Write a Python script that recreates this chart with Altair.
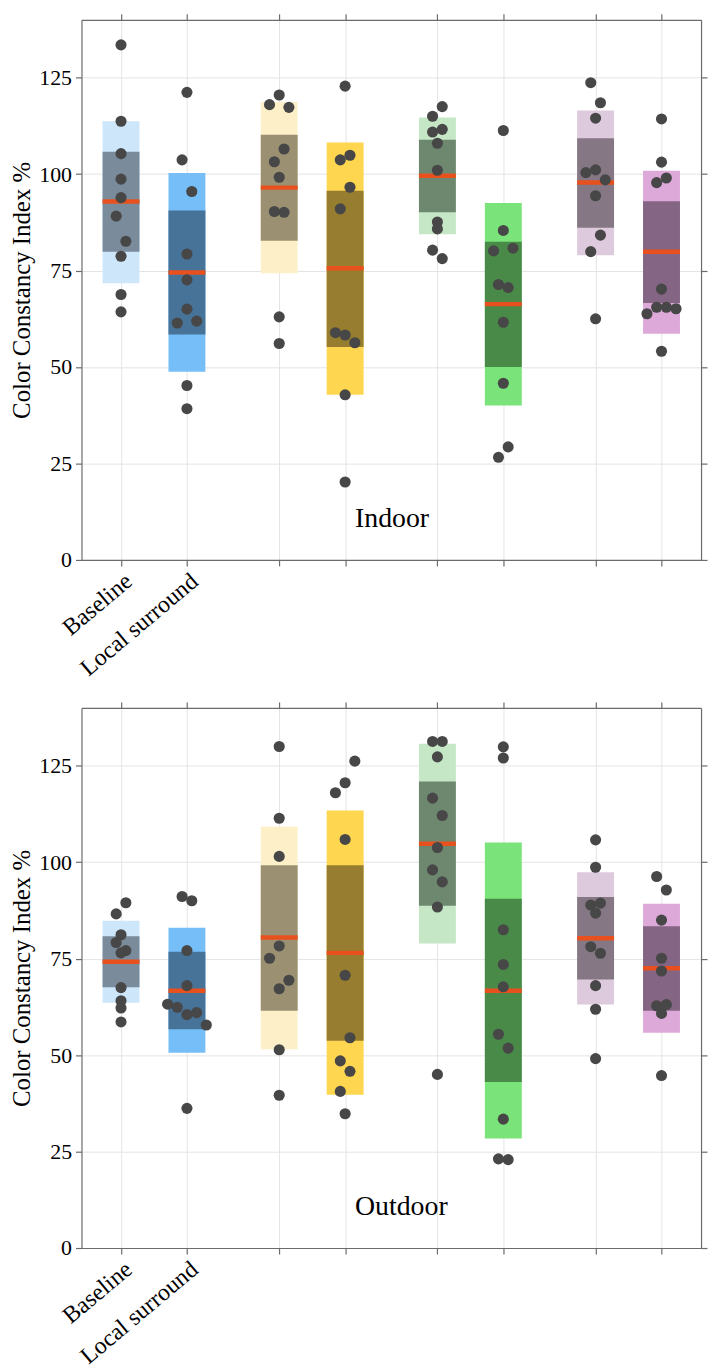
import altair as alt
import pandas as pd

# ---------------- data ----------------
GROUP_LABELS = ["Baseline", "Local surround", "", "", "", "", "", ""]
OUTER_COLORS = ["#cde6fa", "#75bef8", "#fdf0c8", "#fed650", "#c5e7c6", "#7ae37a", "#ddcadc", "#dca9d9"]
INNER_COLORS = ["#7a8b9b", "#477399", "#9b9072", "#967d2f", "#6e8870", "#4a8a48", "#857884", "#846583"]
MEAN_COLOR = "#e8501e"
POINT_COLOR = "#474747"

# Indoor panel
INDOOR_POINTS = [
    [133.5, 113.7, 105.3, 98.7, 93.9, 89.1, 82.6, 78.7, 68.8, 64.3],
    [121.2, 103.7, 95.5, 79.3, 72.6, 65.0, 61.4, 61.9, 45.2, 39.2],
    [118.0, 120.5, 117.3, 106.5, 103.2, 99.2, 90.3, 90.1, 63.0, 56.1],
    [122.8, 103.7, 104.9, 96.6, 91.0, 58.9, 58.3, 56.3, 42.8, 20.2],
    [117.5, 115.0, 110.9, 111.6, 108.0, 101.0, 87.6, 85.8, 80.3, 78.1],
    [111.3, 85.4, 80.1, 80.8, 71.4, 70.6, 61.6, 45.8, 29.3, 26.6],
    [123.7, 118.5, 114.5, 100.4, 101.1, 98.5, 94.4, 84.2, 79.9, 62.5],
    [114.3, 103.1, 99.0, 97.8, 70.2, 63.8, 65.5, 65.5, 65.1, 54.1],
]
# swarm slot of each point
INDOOR_SLOTS = [
    [0, 0, 0, 0, 0, -0.5, 0.5, 0, 0, 0],
    [0, -0.5, 0.5, 0, 0, 0, -1, 1, 0, 0],
    [-1, 0, 1, 0.5, -0.5, 0, -0.5, 0.5, 0, 0],
    [0, -0.5, 0.5, 0.5, -0.5, -1, 0, 1, 0, 0],
    [0.5, -0.5, -0.5, 0.5, 0, 0, 0, 0, -0.5, 0.5],
    [0, 0, -1, 1, -0.5, 0.5, 0, 0, 0.5, -0.5],
    [-0.5, 0.5, 0, -1, 0, 1, 0, 0.5, -0.5, 0],
    [0, 0, 0.5, -0.5, 0, -1.5, -0.5, 0.5, 1.5, 0],
]
INDOOR_SD_LO = [71.7, 48.75, 74.3, 42.8, 84.4, 40.0, 79.0, 58.6]
INDOOR_SD_HI = [113.7, 100.3, 118.7, 108.2, 114.7, 92.5, 116.5, 100.9]
INDOOR_CI_LO = [79.85, 58.4, 82.7, 55.2, 90.1, 50.0, 86.1, 66.6]
INDOOR_CI_HI = [105.8, 90.6, 110.2, 95.7, 108.9, 82.5, 109.3, 93.0]
INDOOR_MEAN = [92.9, 74.5, 96.5, 75.6, 99.6, 66.3, 97.8, 79.9]

# Outdoor panel
OUTDOOR_POINTS = [
    [89.5, 86.6, 81.2, 79.2, 77.1, 76.5, 67.5, 64.1, 62.2, 58.6],
    [91.1, 90.0, 77.1, 68.0, 63.2, 62.4, 60.5, 61.0, 57.8, 36.2],
    [130.0, 111.4, 101.5, 78.3, 75.1, 69.4, 67.2, 51.4, 39.6],
    [126.2, 120.6, 118.0, 105.9, 70.7, 54.5, 48.5, 45.8, 40.6, 34.8],
    [131.3, 131.3, 127.3, 116.6, 112.1, 103.8, 98.0, 94.9, 88.4, 45.0],
    [129.9, 127.0, 82.5, 73.5, 67.7, 55.4, 51.8, 33.4, 23.1, 22.9],
    [105.8, 98.7, 88.9, 89.4, 86.8, 78.1, 76.4, 68.0, 61.9, 49.1],
    [96.3, 92.8, 85.0, 75.1, 71.8, 62.8, 63.1, 60.8, 44.7],
]
OUTDOOR_SLOTS = [
    [0.5, -0.5, 0, -0.5, 0.5, 0, 0, 0, 0, 0],
    [-0.5, 0.5, 0, 0, -2, -1, 0, 1, 2, 0],
    [0, 0, 0, 0, -1, 1, 0, 0, 0],
    [1, 0, -1, 0, 0, 0.5, -0.5, 0.5, -0.5, 0],
    [-0.5, 0.5, 0, -0.5, 0.5, 0, -0.5, 0.5, 0, 0],
    [0, 0, 0, 0, 0, -0.5, 0.5, 0, -0.5, 0.5],
    [0, 0, -0.5, 0.5, 0, -0.5, 0.5, 0, 0, 0],
    [-0.5, 0.5, 0, 0, 0, -0.5, 0.5, 0, 0],
]
OUTDOOR_SD_LO = [63.6, 50.6, 51.5, 39.7, 78.9, 28.4, 63.1, 55.8]
OUTDOOR_SD_HI = [84.8, 83.0, 109.2, 113.4, 130.7, 105.1, 97.4, 89.2]
OUTDOOR_CI_LO = [67.6, 56.7, 61.5, 53.7, 88.7, 43.0, 69.6, 61.5]
OUTDOOR_CI_HI = [80.8, 76.8, 99.2, 99.2, 120.9, 90.5, 91.0, 83.4]
OUTDOOR_MEAN = [74.2, 66.7, 80.5, 76.5, 104.8, 66.7, 80.3, 72.5]

Y_TICKS = [0, 25, 50, 75, 100, 125]

# ---------------- layout constants ----------------
POS = [0.6 + 2.4 * (i // 2) + 1.0 * (i % 2) for i in range(8)]
X_DOMAIN = [0, 9.4]
Y_DOMAIN = [0, 140]
BOX_HALF = 0.28
SLOT = 0.147
W, H = 624, 544
FONT = "Liberation Serif"

label_expr = "''"
for p, lab in reversed(list(zip(POS, GROUP_LABELS))):
    label_expr = f"abs(datum.value - {p}) < 0.05 ? '{lab}' : ({label_expr})"

XS = alt.Scale(domain=X_DOMAIN, nice=False, zero=False)
YS = alt.Scale(domain=Y_DOMAIN, nice=False)

AX_BOTTOM = alt.Axis(orient="bottom", values=POS, labelExpr=label_expr, grid=True,
                     labelAngle=-40, labelFontSize=24, labelPadding=3, title=None,
                     labelOverlap=False, labelBound=False, labelFlush=False)
AX_TOP = alt.Axis(orient="top", values=POS, labels=False, grid=False, title=None)
AY_LEFT = alt.Axis(orient="left", values=Y_TICKS, grid=True, labelFontSize=22, labelPadding=4,
                   title="Color Constancy Index %", titleFontSize=25, titleFontWeight="normal",
                   titlePadding=4, labelOverlap=False)
AY_RIGHT = alt.Axis(orient="right", values=Y_TICKS, labels=False, grid=False, title=None)


def panel(points, slots, sd_lo, sd_hi, ci_lo, ci_hi, means, name):
    boxes = pd.DataFrame({
        "label": [f"g{i}" for i in range(8)],
        "pos": POS,
        "sd_lo": sd_lo, "sd_hi": sd_hi,
        "ci_lo": ci_lo, "ci_hi": ci_hi,
        "mean": means,
        "outer": OUTER_COLORS, "inner": INNER_COLORS,
    })
    boxes["x_lo"] = boxes["pos"] - BOX_HALF
    boxes["x_hi"] = boxes["pos"] + BOX_HALF

    rows = []
    for i, (vals, sl) in enumerate(zip(points, slots)):
        for v, s in zip(vals, sl):
            rows.append({"g": i, "value": v, "x": POS[i] + s * SLOT})
    pts = pd.DataFrame(rows)

    base = alt.Chart(boxes)
    outer = base.mark_rect().encode(
        x=alt.X("x_lo:Q", scale=XS, axis=AX_BOTTOM),
        x2="x_hi:Q",
        y=alt.Y("sd_lo:Q", scale=YS, axis=AY_LEFT),
        y2="sd_hi:Q",
        color=alt.Color("outer:N", scale=None),
    )
    inner = base.mark_rect().encode(
        x=alt.X("x_lo:Q", scale=XS, axis=None),
        x2="x_hi:Q",
        y=alt.Y("ci_lo:Q", scale=YS, axis=None),
        y2="ci_hi:Q",
        color=alt.Color("inner:N", scale=None),
    )
    mean = base.mark_rule(color=MEAN_COLOR, strokeWidth=4.5).encode(
        x=alt.X("x_lo:Q", scale=XS, axis=None),
        x2="x_hi:Q",
        y=alt.Y("mean:Q", scale=YS, axis=None),
    )
    dots = alt.Chart(pts).mark_circle(color=POINT_COLOR, opacity=1, size=125).encode(
        x=alt.X("x:Q", scale=XS, axis=AX_TOP),
        y=alt.Y("value:Q", scale=YS, axis=AY_RIGHT),
    )
    txt = alt.Chart(pd.DataFrame({"t": [name], "x": [4.15], "y": [10.5]})).mark_text(
        font=FONT, fontSize=28, align="left", baseline="middle", color="black"
    ).encode(
        x=alt.X("x:Q", scale=XS, axis=None),
        y=alt.Y("y:Q", scale=YS, axis=None),
        text="t:N",
    )
    return alt.layer(outer, inner, mean, dots, txt).resolve_axis(
        x="independent", y="independent"
    ).properties(width=W, height=H)


top = panel(INDOOR_POINTS, INDOOR_SLOTS, INDOOR_SD_LO, INDOOR_SD_HI,
            INDOOR_CI_LO, INDOOR_CI_HI, INDOOR_MEAN, "Indoor")
bottom = panel(OUTDOOR_POINTS, OUTDOOR_SLOTS, OUTDOOR_SD_LO, OUTDOOR_SD_HI,
               OUTDOOR_CI_LO, OUTDOOR_CI_HI, OUTDOOR_MEAN, "Outdoor")

chart = alt.vconcat(
    top, bottom, spacing=149, bounds="flush",
    padding={"left": 2, "top": 0, "right": 0, "bottom": 0},
).configure_view(
    stroke=None
).configure_axis(
    labelFont=FONT, titleFont=FONT, labelColor="black", titleColor="black",
    domainColor="#6b6b6b", tickColor="#6b6b6b", domainWidth=1.2, tickWidth=1.2,
    tickSize=6, gridColor="#e4e4e4", gridWidth=1,
)

chart.save("out.html", embed_options={"renderer": "svg", "actions": False})
